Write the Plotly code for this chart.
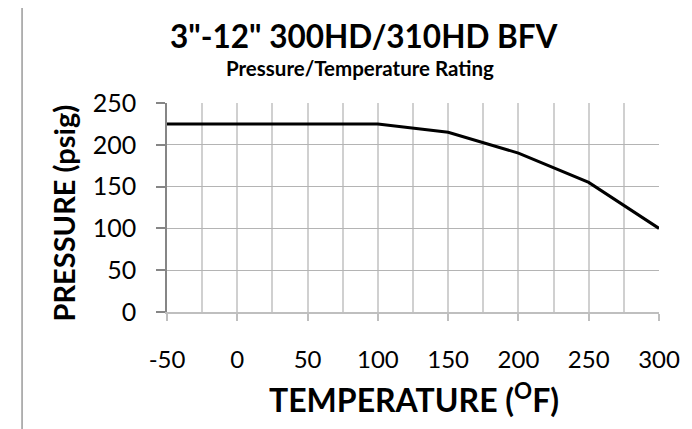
import plotly.graph_objects as go

# ---- data ----
temperature = [-50, 100, 150, 200, 250, 300]
pressure = [225, 225, 215, 190, 155, 100]
x_ticks = [-50, 0, 50, 100, 150, 200, 250, 300]
y_ticks = [0, 50, 100, 150, 200, 250]

title_text = '3"-12" 300HD/310HD BFV'
subtitle_text = 'Pressure/Temperature Rating'
x_title = 'TEMPERATURE (<sup>O</sup>F)'
y_title = 'PRESSURE (psig)'

OFF = 8  # page body margin
W, H = 692 - OFF, 429 - OFF
L, R, T, B = 167 - OFF, 26, 103 - OFF, 117
PW, PH = W - L - R, H - T - B
FONT = "Lato"


def px(xp):
    return (xp - OFF - L) / PW


def py(yp):
    return (H - B - (yp - OFF)) / PH


fig = go.Figure(
    go.Scatter(
        x=temperature, y=pressure, mode="lines",
        line=dict(color="black", width=3),
        showlegend=False, hoverinfo="skip",
    )
)

fig.update_layout(
    width=W, height=H,
    margin=dict(l=L, r=R, t=T, b=B, pad=0),
    paper_bgcolor="white", plot_bgcolor="white",
    font=dict(family=FONT, color="black"),
    xaxis=dict(
        range=[-50, 300], tickvals=x_ticks, ticktext=[str(v) for v in x_ticks],
        showgrid=True, gridcolor="#d0d0d0", gridwidth=1.5,
        minor=dict(tick0=-50, dtick=25, showgrid=True, gridcolor="#d0d0d0",
                   gridwidth=1.5, ticks=""),
        showline=True, linecolor="#bfbfbf", linewidth=1.5,
        ticks="outside", ticklen=7, tickcolor="#bfbfbf", tickwidth=1.5,
        tickfont=dict(family=FONT, size=24, color="black"),
        ticklabelstandoff=18,
        zeroline=False, fixedrange=True,
    ),
    yaxis=dict(
        range=[0, 250], tickvals=y_ticks, ticktext=[str(v) for v in y_ticks],
        showgrid=True, gridcolor="#b4b4b4", gridwidth=1.2,
        showline=True, linecolor="#868686", linewidth=1.5,
        ticks="outside", ticklen=9, tickcolor="#868686", tickwidth=1.5,
        tickfont=dict(family=FONT, size=25, color="black"),
        ticklabelstandoff=15,
        zeroline=False, fixedrange=True,
    ),
    shapes=[
        dict(type="rect", xref="paper", yref="paper",
             x0=px(20), x1=px(800), y0=py(500), y1=py(6),
             line=dict(color="#9a9a9a", width=1.5), layer="below"),
    ],
    annotations=[
        dict(text=title_text, xref="paper", yref="paper", x=px(367), y=py(36),
             xanchor="center", yanchor="middle", showarrow=False,
             font=dict(family=FONT, size=31.5, color="black", weight="bold")),
        dict(text=subtitle_text, xref="paper", yref="paper", x=px(363), y=py(68),
             xanchor="center", yanchor="middle", showarrow=False,
             font=dict(family=FONT, size=20.5, color="black", weight="bold")),
        dict(text=y_title, xref="paper", yref="paper", x=px(62), y=py(213),
             xanchor="center", yanchor="middle", showarrow=False, textangle=-90,
             font=dict(family=FONT, size=29, color="black", weight="bold")),
        dict(text=x_title, xref="paper", yref="paper", x=px(418), y=py(398),
             xanchor="center", yanchor="middle", showarrow=False,
             font=dict(family=FONT, size=32, color="black", weight="bold")),
    ],
)

fig.write_html("out.html", config={"displayModeBar": False})
